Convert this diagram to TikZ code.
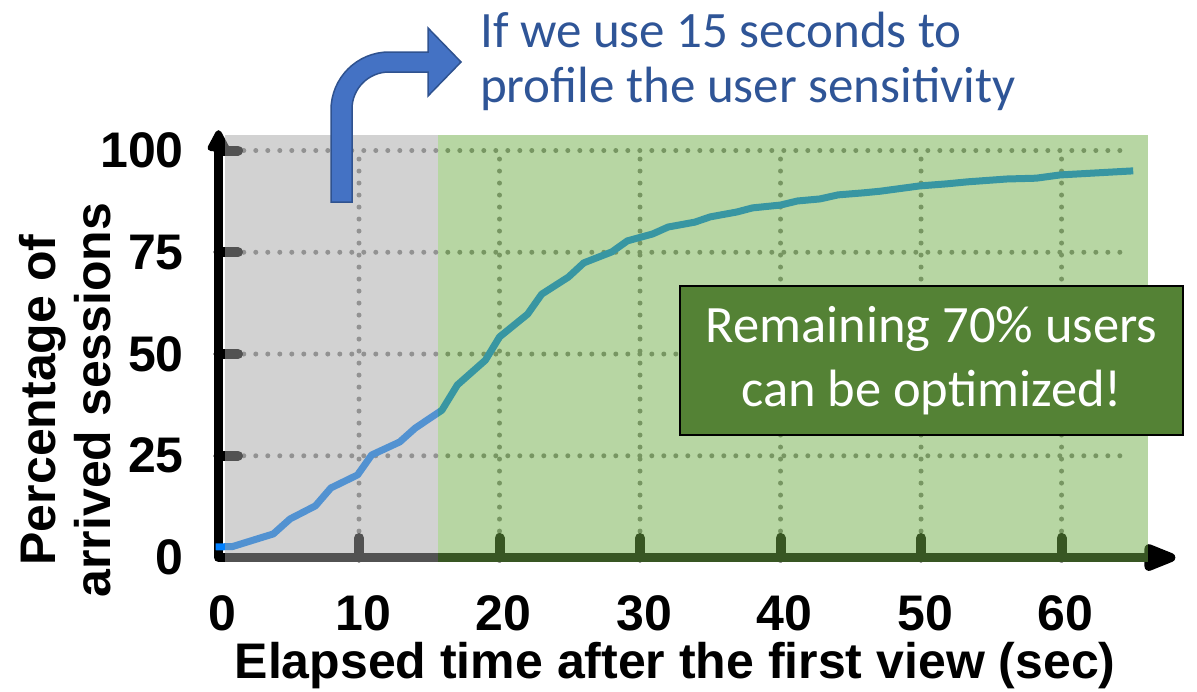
\documentclass[tikz,border=0pt]{standalone}
\usepackage{fontspec}
\setmainfont{Carlito}
\newfontfamily\plotfont{Liberation Sans}
\usetikzlibrary{arrows.meta}
\definecolor{gridgray}{HTML}{7F7F7F}
\definecolor{curveblue}{HTML}{0080FF}
\definecolor{veilgray}{HTML}{A5A5A5}
\definecolor{veilgreen}{HTML}{70AD47}
\definecolor{arrowblue}{HTML}{4472C4}
\definecolor{arrowedge}{HTML}{2F528F}
\definecolor{noteblue}{HTML}{2F5597}
\definecolor{boxgreen}{HTML}{548235}

\begin{document}
\begin{tikzpicture}[x=14.05pt,y=4.07pt,
  gridline/.style={draw=gridgray,line width=5pt,line cap=round,dash pattern=on 0pt off 12pt},
  tickmark/.style={line width=10pt,line cap=round},
  ticklabel/.style={font=\plotfont\bfseries\fontsize{50}{55}\selectfont,inner sep=0pt},
  veil/.style={fill opacity=0.5}]
  \useasboundingbox (-15.55,-32.8) rectangle (69.64,136.98);
  % grid
  \foreach \y in {25,50,75,100} \draw[gridline] (1.8,\y) -- (65,\y);
  \foreach \x in {10,20,...,60} \draw[gridline] (\x,6.5) -- (\x,100);
  % axes and ticks
  \draw[line width=9pt,line join=round,
        {Triangle[length=25pt,width=24pt,round]}-{Triangle[length=40pt,width=28pt,round]}]
        (0,105) -- (0,0) -- (68.1,0);
  \foreach \y in {25,50,75,100} \draw[tickmark] (0,\y) -- (1.39,\y);
  \foreach \x in {10,20,...,60} \draw[tickmark] (\x,0) -- (\x,4.8);
  % arrivals
  \draw[curveblue,line width=7pt,line join=round] plot coordinates {
    (-0.2,2.6) (1,2.7) (3.9,5.8) (5.1,9.5) (6.9,12.7) (8,17.1) (9.9,20.3)
    (10.9,25.2) (12.9,28.4) (14,31.8) (15.9,36.2) (17,42.4) (19,48.5)
    (20,54.2) (22,59.8) (23,64.7) (24.9,68.9) (26,72.4) (28,75.1) (29.1,77.8)
    (30.9,79.5) (32,81.2) (33.9,82.4) (35,83.7) (36.9,84.9) (38,85.9)
    (40,86.6) (41.2,87.6) (42.8,88.1) (44.1,89.1) (45.9,89.6) (47.1,90)
    (49.9,91.3) (51.8,91.8) (53.3,92.3) (56.1,93) (58.2,93.2) (59.9,94) (65.1,95)};
  % profiling window and the rest
  \fill[veilgray,veil] (0.46,-1.2) rectangle (15.62,103.9);
  \fill[veilgreen,veil] (15.62,-1.2) rectangle (66.16,103.8);
  % bent arrow
  \draw[draw=arrowedge,fill=arrowblue,line width=1.5pt]
    (112.5pt,355.5pt) -- (112.5pt,447.5pt) arc[start angle=180,end angle=90,radius=58pt]
    -- (209.5pt,505.5pt) -- (209.5pt,529.5pt) -- (242.5pt,495.5pt) -- (209.5pt,461.5pt)
    -- (209.5pt,485.5pt) -- (170.5pt,485.5pt) arc[start angle=90,end angle=180,radius=37pt]
    -- (133.5pt,355.5pt) -- cycle;
  % labels
  \foreach \y in {0,25,50,75,100} \node[ticklabel,anchor=east] (yl\y) at (-2.46,\y) {\y};
  \foreach \x in {0,10,...,60} \node[ticklabel,anchor=north] (xl\x) at (\x+0.3,-9.2) {\x};
  \node[ticklabel,anchor=base] (xlab) at (32.5,-29.6) {Elapsed time after the first view (sec)};
  \node[ticklabel,rotate=90,align=center] (ylab) at (-10.93,38.7) {Percentage of\\arrived sessions};
  \node[anchor=north west,inner sep=0pt,align=left,text=noteblue,
        font=\fontsize{51}{55}\selectfont] (note) at (18.61,134.0)
        {If we use 15 seconds to\\profile the user sensitivity};
  \node[draw=black,line width=2pt,fill=boxgreen,text=white,align=center,
        minimum width=503pt,minimum height=149pt,font=\fontsize{52.5}{64}\selectfont]
        (remain) at (50.75,48.4) {Remaining 70\% users\\can be optimized!};
\end{tikzpicture}
\end{document}
